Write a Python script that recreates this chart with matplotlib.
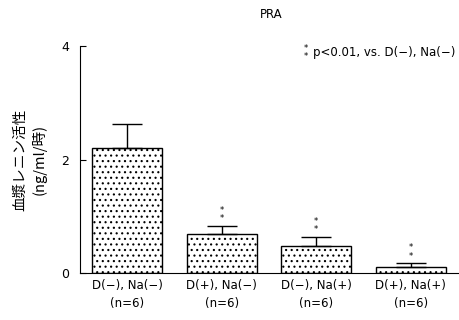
import matplotlib
matplotlib.use("Agg")
import matplotlib.pyplot as plt
import numpy as np

plt.rcParams['font.family'] = ['DejaVu Sans', 'Noto Sans CJK JP']
plt.rcParams['hatch.linewidth'] = 0.8

groups = ["D(−), Na(−)", "D(+), Na(−)", "D(−), Na(+)", "D(+), Na(+)"]
n_labels = ["(n=6)", "(n=6)", "(n=6)", "(n=6)"]
pra_mean = [2.20, 0.69, 0.48, 0.11]
pra_sd = [0.43, 0.14, 0.15, 0.06]
significant = [False, True, True, True]

fig = plt.figure(figsize=(4.6, 3.2), dpi=100)
ax = fig.add_axes([0.174, 0.147, 0.826, 0.709])

x = np.arange(len(groups))
ax.bar(x, pra_mean, width=0.74, color="white", edgecolor="black",
       linewidth=1.0, hatch="...", zorder=2)
ax.errorbar(x, pra_mean, yerr=[np.zeros(len(x)), pra_sd], fmt="none",
            ecolor="black", elinewidth=1.0, capsize=11, capthick=1.0, zorder=3)

# 有意差マーク
for xi, m, s, sig in zip(x, pra_mean, pra_sd, significant):
    if sig:
        ax.annotate("*\n*", (xi, m + s), xytext=(0, 2), textcoords="offset points",
                    ha="center", va="bottom", fontsize=6, linespacing=0.9)

ax.set_xlim(-0.5, 3.52)
ax.set_ylim(0, 4)
ax.set_yticks([0, 2, 4])
ax.set_yticklabels(["0", "2", "4"], fontsize=9)
ax.set_xticks(x)
ax.set_xticklabels([g + "\n" + n for g, n in zip(groups, n_labels)],
                   fontsize=8.5, linespacing=1.5)
ax.tick_params(axis="y", direction="in", length=4, pad=8)
ax.tick_params(axis="x", length=0, pad=4)
ax.spines["top"].set_visible(False)
ax.spines["right"].set_visible(False)

ax.set_ylabel("血漿レニン活性\n(ng/ml/時)", fontsize=10.5, linespacing=1.35,
              labelpad=10, family=['Noto Sans CJK JP', 'DejaVu Sans'])

fig.text(0.59, 0.955, "PRA", ha="center", va="center", fontsize=8.5)
fig.text(0.665, 0.835, "*\n*", ha="center", va="center", fontsize=6, linespacing=0.8)
fig.text(0.68, 0.835, "p<0.01, vs. D(−), Na(−)", ha="left", va="center", fontsize=8.5)

fig.savefig("out.png", dpi=100)
